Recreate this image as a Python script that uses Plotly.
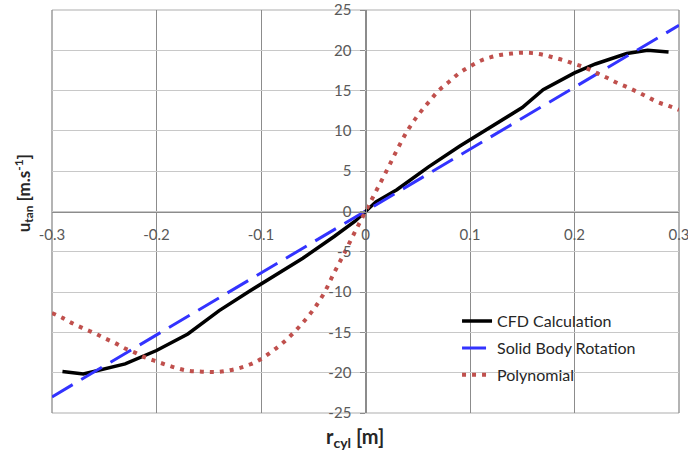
import plotly.graph_objects as go

# ---- data ----
cfd_r = [-0.29, -0.27, -0.23, -0.20, -0.17, -0.14, -0.11, -0.06, -0.03, -0.01, 0.0,
         0.01, 0.03, 0.06, 0.09, 0.11, 0.13, 0.15, 0.17, 0.20, 0.22, 0.25, 0.27, 0.29]
cfd_u = [-19.85, -20.15, -18.9, -17.25, -15.2, -12.3, -9.8, -5.8, -3.1, -1.2, 0.0,
         1.2, 2.7, 5.5, 8.1, 9.7, 11.4, 12.9, 15.1, 17.2, 18.3, 19.6, 20.0, 19.8]

sbr_r = [-0.3, 0.3]
sbr_u = [-23.0, 23.1]

poly_r = [-0.30, -0.29, -0.28, -0.27, -0.26, -0.25, -0.24, -0.23, -0.22, -0.21,
          -0.20, -0.19, -0.18, -0.17, -0.16, -0.15, -0.14, -0.13, -0.12, -0.11,
          -0.10, -0.09, -0.08, -0.07, -0.06, -0.05, -0.04, -0.03, -0.02, -0.01,
          0.00, 0.01, 0.02, 0.03, 0.04, 0.05, 0.06, 0.07, 0.08, 0.09,
          0.10, 0.11, 0.12, 0.13, 0.14, 0.15, 0.16, 0.17, 0.18, 0.19,
          0.20, 0.21, 0.22, 0.23, 0.24, 0.25, 0.26, 0.27, 0.28, 0.29, 0.30]
poly_u = [-12.6, -13.2, -13.9, -14.5, -15.05, -15.7, -16.3, -17.0, -17.55, -18.15,
          -18.6, -19.05, -19.45, -19.75, -19.85, -19.9, -19.9, -19.7, -19.4, -18.95,
          -18.3, -17.4, -16.4, -15.2, -13.8, -12.2, -10.2, -7.6, -5.1, -2.5,
          0.0, 2.5, 5.0, 7.6, 10.0, 11.9, 13.5, 15.0, 16.1, 17.2,
          18.0, 18.7, 19.15, 19.45, 19.6, 19.7, 19.65, 19.45, 19.1, 18.75,
          18.3, 17.85, 17.25, 16.65, 16.0, 15.45, 14.85, 14.2, 13.55, 13.1, 12.6]

x_ticks = [-0.3, -0.2, -0.1, 0, 0.1, 0.2, 0.3]
x_tick_text = ["-0.3", "-0.2", "-0.1", "0", "0.1", "0.2", "0.3"]
y_ticks = [-25, -20, -15, -10, -5, 0, 5, 10, 15, 20, 25]
y_tick_text = [str(v) for v in y_ticks]

FONT = "Lato, 'Open Sans', sans-serif"
GRID_V = "#8C8C8C"
GRID_H = "#C8C8C8"

fig = go.Figure()
fig.add_trace(go.Scatter(x=cfd_r, y=cfd_u, mode="lines", name="CFD Calculation",
                         legendgroup="a",
                         line=dict(color="#000000", width=3.5)))
fig.add_trace(go.Scatter(x=sbr_r, y=sbr_u, mode="lines", name="Solid Body Rotation",
                         legendgroup="b",
                         line=dict(color="#3333FF", width=3, dash="24px,10px")))
fig.add_trace(go.Scatter(x=poly_r, y=poly_u, mode="lines", name="Polynomial",
                         legendgroup="c",
                         line=dict(color="#C0504D", width=4, dash="4px,6px", shape="spline")))

frame = [
    dict(type="line", xref="paper", yref="paper", x0=0, x1=1, y0=1, y1=1,
         line=dict(color=GRID_H, width=1.3), layer="below"),
    dict(type="line", xref="paper", yref="paper", x0=0, x1=1, y0=0, y1=0,
         line=dict(color=GRID_H, width=1.3), layer="below"),
    dict(type="line", xref="paper", yref="paper", x0=0, x1=0, y0=0, y1=1,
         line=dict(color=GRID_V, width=1.3), layer="below"),
    dict(type="line", xref="paper", yref="paper", x0=1, x1=1, y0=0, y1=1,
         line=dict(color=GRID_V, width=1.3), layer="below"),
    dict(type="rect", xref="paper", yref="paper",
         x0=0.590, x1=0.970, y0=0.062, y1=0.2556,
         fillcolor="white", line=dict(width=0), layer="between"),
]

fig.update_layout(
    width=688, height=455,
    margin=dict(l=52, r=9, t=10, b=42),
    paper_bgcolor="white", plot_bgcolor="white",
    font=dict(family=FONT, size=15, color="#595959"),
    showlegend=True,
    legend=dict(x=0.646, y=0.27, xanchor="left", yanchor="top",
                bgcolor="rgba(255,255,255,0)", borderwidth=0,
                font=dict(family=FONT, size=16, color="#262626"),
                tracegroupgap=3, traceorder="grouped"),
    xaxis=dict(range=[-0.3, 0.3], tickvals=x_ticks, ticktext=x_tick_text,
               showgrid=True, gridcolor=GRID_V, gridwidth=1.3,
               zeroline=False, showline=True, linecolor=GRID_V, linewidth=1.3,
               anchor="free", position=0.5, ticks="", ticklabelstandoff=9,
               automargin=False, ticklabeloverflow="allow",
               tickfont=dict(family=FONT, size=15, color="#595959")),
    yaxis=dict(range=[-25, 25], tickvals=y_ticks, ticktext=y_tick_text,
               showgrid=True, gridcolor=GRID_H, gridwidth=1.3,
               zeroline=False, showline=True, linecolor=GRID_V, linewidth=1.3,
               anchor="free", position=0.5, ticks="outside", ticklen=5,
               tickcolor=GRID_V, tickwidth=1.3, ticklabelstandoff=6,
               automargin=False, ticklabeloverflow="allow",
               tickfont=dict(family=FONT, size=15, color="#595959")),
    shapes=frame,
    annotations=[
        dict(text="<b>u<sub>tan</sub> [m.s<sup>-1</sup>]</b>", xref="paper", yref="paper",
             x=-0.0447, y=0.545, xanchor="center", yanchor="middle",
             textangle=-90, showarrow=False,
             font=dict(family=FONT, size=17, color="#262626")),
        dict(text="<b>r<sub>cyl</sub> [m]</b>", xref="paper", yref="paper",
             x=0.483, y=-0.062, xanchor="center", yanchor="middle", showarrow=False,
             font=dict(family=FONT, size=20, color="#262626")),
    ],
)

fig.write_html("out.html")
